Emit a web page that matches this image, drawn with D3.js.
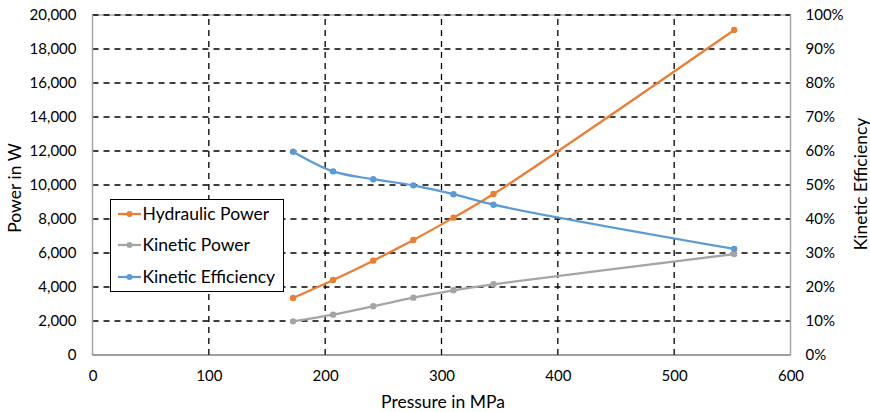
<!DOCTYPE html>
<html>
<head>
<meta charset="utf-8">
<script src="https://cdn.jsdelivr.net/npm/d3@7"></script>
<style>
  html, body { margin: 0; padding: 0; background: #fff; }
  svg { display: block; }
  text { font-family: Lato, "Open Sans", sans-serif; fill: #000; }
</style>
</head>
<body>
<div id="chart"></div>
<script>
// ---- data ----
const pressure = [172.4, 206.8, 241.3, 275.8, 310.3, 344.7, 551.6];
const hydraulicPower = [3353, 4410, 5550, 6765, 8080, 9470, 19120];
const kineticPower = [1980, 2375, 2865, 3375, 3805, 4160, 5940];
const kineticEfficiency = [0.598, 0.540, 0.517, 0.499, 0.473, 0.442, 0.312];
const xTicks = [0, 100, 200, 300, 400, 500, 600];
const yTicks = [0, 2000, 4000, 6000, 8000, 10000, 12000, 14000, 16000, 18000, 20000];
const y2Ticks = [0, 0.1, 0.2, 0.3, 0.4, 0.5, 0.6, 0.7, 0.8, 0.9, 1.0];
const seriesNames = ["Hydraulic Power", "Kinetic Power", "Kinetic Efficiency"];
const seriesColors = ["#ED7D31", "#A5A5A5", "#5B9BD5"];

const W = 870, H = 412;
const svg = d3.select("#chart").append("svg").attr("width", W).attr("height", H);

const x = d3.scaleLinear().domain([0, 600]).range([92.5, 790.5]);
const y = d3.scaleLinear().domain([0, 20000]).range([355, 15]);
const y2 = d3.scaleLinear().domain([0, 1]).range([355, 15]);

const fmt = d3.format(",");
const pct = d3.format(".0%");

// top border (solid gray under dashed grid)
svg.append("line").attr("x1", x(0)).attr("x2", x(600)).attr("y1", y(20000)).attr("y2", y(20000))
  .attr("stroke", "#808080").attr("stroke-width", 1.2);

// gridlines
const grid = svg.append("g");
grid.selectAll("line.h").data(yTicks.filter(d => d > 0)).join("line")
  .attr("x1", x(0)).attr("x2", x(600))
  .attr("y1", d => y(d)).attr("y2", d => y(d))
  .attr("stroke", "#000").attr("stroke-width", 1.3)
  .attr("stroke-dasharray", "6,5");
grid.selectAll("line.v").data(xTicks.filter(d => d > 0 && d < 600)).join("line")
  .attr("x1", d => x(d)).attr("x2", d => x(d))
  .attr("y1", y(0)).attr("y2", y(20000))
  .attr("stroke", "#000").attr("stroke-width", 1.3)
  .attr("stroke-dasharray", "6,5");

// axes lines
svg.append("line").attr("x1", x(0)).attr("x2", x(0)).attr("y1", y(0)).attr("y2", y(20000))
  .attr("stroke", "#A6A6A6").attr("stroke-width", 1.5);
svg.append("line").attr("x1", x(600)).attr("x2", x(600)).attr("y1", y(0)).attr("y2", y(20000))
  .attr("stroke", "#A6A6A6").attr("stroke-width", 1.5);
svg.append("line").attr("x1", x(0)).attr("x2", x(600)).attr("y1", y(0)).attr("y2", y(0))
  .attr("stroke", "#404040").attr("stroke-width", 1.2);

const tickFont = 15;

// left axis labels
const yAxis = d3.axisLeft(y).tickValues(yTicks).tickFormat(fmt).tickSize(0).tickPadding(16);
const gy = svg.append("g").attr("transform", `translate(${x(0)},0)`).call(yAxis);
gy.select(".domain").remove();
gy.selectAll("text").attr("font-size", tickFont).attr("font-family", "Lato, sans-serif").attr("fill", "#000");

// right axis labels
const y2Axis = d3.axisRight(y2).tickValues(y2Ticks).tickFormat(pct).tickSize(0).tickPadding(15);
const gy2 = svg.append("g").attr("transform", `translate(${x(600)},0)`).call(y2Axis);
gy2.select(".domain").remove();
gy2.selectAll("text").attr("font-size", tickFont).attr("font-family", "Lato, sans-serif").attr("fill", "#000");

// x axis labels
const xAxis = d3.axisBottom(x).tickValues(xTicks).tickFormat(d3.format("d")).tickSize(0).tickPadding(15);
const gx = svg.append("g").attr("transform", `translate(0,${y(0)})`).call(xAxis);
gx.select(".domain").remove();
gx.selectAll("text").attr("font-size", tickFont).attr("font-family", "Lato, sans-serif").attr("fill", "#000");

// axis titles
svg.append("text").attr("x", 443).attr("y", 408).attr("text-anchor", "middle")
  .attr("font-size", 17.5).text("Pressure in MPa");
svg.append("text").attr("transform", "translate(21,188) rotate(-90)").attr("text-anchor", "middle")
  .attr("font-size", 17.5).text("Power in W");
svg.append("text").attr("transform", "translate(867,184) rotate(-90)").attr("text-anchor", "middle")
  .attr("font-size", 17.5).text("Kinetic Efficiency");

// series
const curve = d3.curveCatmullRom.alpha(0.5);
const series = [
  { name: seriesNames[0], color: seriesColors[0], vals: hydraulicPower, sc: y },
  { name: seriesNames[1], color: seriesColors[1], vals: kineticPower, sc: y },
  { name: seriesNames[2], color: seriesColors[2], vals: kineticEfficiency, sc: y2 }
];
series.forEach(s => {
  const pts = pressure.map((p, i) => [p, s.vals[i]]);
  const line = d3.line().x(d => x(d[0])).y(d => s.sc(d[1])).curve(curve);
  svg.append("path").datum(pts).attr("d", line)
    .attr("fill", "none").attr("stroke", s.color).attr("stroke-width", 2.25);
  svg.append("g").selectAll("circle").data(pts).join("circle")
    .attr("cx", d => x(d[0])).attr("cy", d => s.sc(d[1])).attr("r", 3.2)
    .attr("fill", s.color);
});

// legend
const lg = svg.append("g");
lg.append("rect").attr("x", 110.5).attr("y", 199.5).attr("width", 173).attr("height", 92)
  .attr("fill", "#fff").attr("stroke", "#000").attr("stroke-width", 1);
const ly = [214, 245, 277];
series.forEach((s, i) => {
  lg.append("line").attr("x1", 118).attr("x2", 141).attr("y1", ly[i]).attr("y2", ly[i])
    .attr("stroke", s.color).attr("stroke-width", 2.25);
  lg.append("circle").attr("cx", 129.5).attr("cy", ly[i]).attr("r", 3).attr("fill", s.color);
  lg.append("text").attr("x", 142.5).attr("y", ly[i]).attr("dy", "0.35em")
    .attr("font-size", 17.5).text(s.name);
});
</script>
</body>
</html>
